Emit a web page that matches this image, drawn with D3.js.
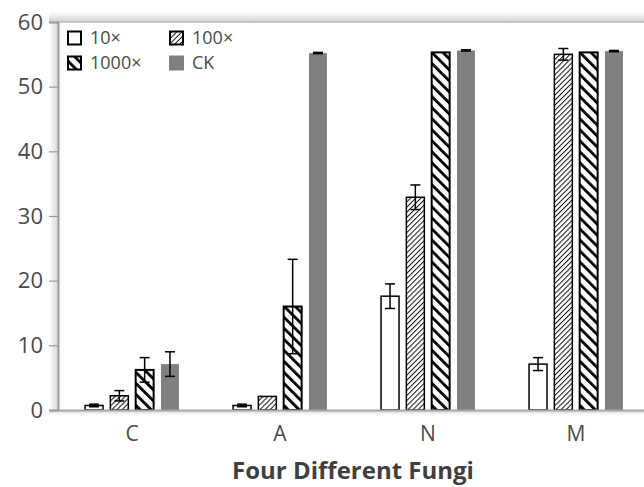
<!DOCTYPE html>
<html>
<head>
<meta charset="utf-8">
<script src="https://cdn.jsdelivr.net/npm/d3@7"></script>
<style>
  body { margin: 0; background: #fff; }
  text { font-family: "Open Sans", "Noto Sans", sans-serif; }
</style>
</head>
<body>
<div id="chart"></div>
<script>
// data
var fungi = ["C", "A", "N", "M"];
var seriesNames = ["10×", "100×", "1000×", "CK"];
var val10 = [0.7, 0.7, 17.6, 7.1];
var err10 = [0.2, 0.2, 1.9, 1.0];
var val100 = [2.2, 2.1, 32.9, 55.0];
var err100 = [0.8, 0, 1.9, 0.9];
var val1000 = [6.2, 16.0, 55.3, 55.3];
var err1000 = [1.9, 7.3, 0, 0];
var valCK = [7.1, 55.2, 55.6, 55.5];
var errCK = [1.9, 0.1, 0.1, 0.1];
var yTicks = [0, 10, 20, 30, 40, 50, 60];

var W = 644, H = 487;
var margin = {t: 22, r: -6, b: 77, l: 58};
var width = W - margin.l - margin.r,
    height = H - margin.t - margin.b;

var svg = d3.select('#chart').append('svg')
    .attr('width', W)
    .attr('height', H);

var defs = svg.append('defs');

// fine "/" hatch for 100x
var p1 = defs.append('pattern').attr('id', 'h100')
    .attr('patternUnits', 'userSpaceOnUse')
    .attr('width', 3.6).attr('height', 3.6)
    .attr('patternTransform', 'rotate(45)');
p1.append('rect').attr('width', 3.6).attr('height', 3.6).attr('fill', '#fff');
p1.append('line').attr('x1', 0.5).attr('x2', 0.5).attr('y1', 0).attr('y2', 3.6)
    .attr('stroke', '#111').attr('stroke-width', 1);

// thick "\" hatch for 1000x
var p2 = defs.append('pattern').attr('id', 'h1000')
    .attr('patternUnits', 'userSpaceOnUse')
    .attr('width', 7.8).attr('height', 7.8)
    .attr('patternTransform', 'rotate(-45)');
p2.append('rect').attr('width', 7.8).attr('height', 7.8).attr('fill', '#fff');
p2.append('rect').attr('x', 0).attr('width', 2.8).attr('height', 7.8).attr('fill', '#000');

// shadows for the frame
var gTop = defs.append('linearGradient').attr('id', 'shTop').attr('x1', 0).attr('x2', 0).attr('y1', 0).attr('y2', 1);
gTop.append('stop').attr('offset', '0%').attr('stop-color', '#fff');
gTop.append('stop').attr('offset', '100%').attr('stop-color', '#d0d0d0');
var gLeft = defs.append('linearGradient').attr('id', 'shLeft').attr('x1', 0).attr('x2', 1).attr('y1', 0).attr('y2', 0);
gLeft.append('stop').attr('offset', '0%').attr('stop-color', '#fff');
gLeft.append('stop').attr('offset', '100%').attr('stop-color', '#d8d8d8');
var gBot = defs.append('linearGradient').attr('id', 'shBot').attr('x1', 0).attr('x2', 0).attr('y1', 0).attr('y2', 1);
gBot.append('stop').attr('offset', '0%').attr('stop-color', '#d0d0d0');
gBot.append('stop').attr('offset', '100%').attr('stop-color', '#fff');

var fills = ['#fff', 'url(#h100)', 'url(#h1000)', '#808080'];
var strokes = ['#000', '#000', '#000', '#808080'];
var strokeW = [1.5, 1.5, 2, 0];

var rows = fungi.map(function(f, i) {
    return {
        name: f,
        vals: [
            {s: 0, v: val10[i], e: err10[i]},
            {s: 1, v: val100[i], e: err100[i]},
            {s: 2, v: val1000[i], e: err1000[i]},
            {s: 3, v: valCK[i], e: errCK[i]}
        ]
    };
});

var x0 = d3.scaleBand().domain(fungi).range([0, width])
    .paddingInner(0.316).paddingOuter(0.158);
var x1 = d3.scaleBand().domain(d3.range(4)).range([0, x0.bandwidth()])
    .paddingInner(0.29).paddingOuter(0.145);
var y = d3.scaleLinear().domain([0, 60]).range([height, 0]);

var g = svg.append('g').attr('transform', 'translate(' + margin.l + ',' + margin.t + ')');

// frame with soft shadows
g.append('rect').attr('x', -9).attr('y', -10).attr('width', width + 20).attr('height', 10).attr('fill', 'url(#shTop)');
g.append('rect').attr('x', -9).attr('y', 0).attr('width', 9).attr('height', height).attr('fill', 'url(#shLeft)');
g.append('rect').attr('x', -9).attr('y', height).attr('width', width + 20).attr('height', 5).attr('fill', 'url(#shBot)');
g.append('line').attr('x1', 0).attr('x2', width + 20).attr('y1', 0).attr('y2', 0)
    .attr('stroke', '#b8b8b8').attr('stroke-width', 1.5);

// bars
var groups = g.selectAll('.grp').data(rows).enter().append('g')
    .attr('class', 'grp')
    .attr('transform', function(d) { return 'translate(' + x0(d.name) + ',0)'; });

groups.selectAll('rect.bar').data(function(d) { return d.vals; }).enter().append('rect')
    .attr('class', 'bar')
    .attr('x', function(d) { return x1(d.s); })
    .attr('width', x1.bandwidth())
    .attr('y', function(d) { return y(d.v); })
    .attr('height', function(d) { return y(0) - y(d.v); })
    .attr('fill', function(d) { return fills[d.s]; })
    .attr('stroke', function(d) { return strokes[d.s]; })
    .attr('stroke-width', function(d) { return strokeW[d.s]; });

// error bars
var eb = groups.selectAll('g.err').data(function(d) { return d.vals.filter(function(v) { return v.e > 0; }); })
    .enter().append('g').attr('class', 'err');
eb.append('line')
    .attr('x1', function(d) { return x1(d.s) + x1.bandwidth() / 2; })
    .attr('x2', function(d) { return x1(d.s) + x1.bandwidth() / 2; })
    .attr('y1', function(d) { return y(d.v + d.e); })
    .attr('y2', function(d) { return y(Math.max(0, d.v - d.e)); })
    .attr('stroke', '#000').attr('stroke-width', 1.5);
eb.append('line')
    .attr('x1', function(d) { return x1(d.s) + x1.bandwidth() / 2 - 5; })
    .attr('x2', function(d) { return x1(d.s) + x1.bandwidth() / 2 + 5; })
    .attr('y1', function(d) { return y(d.v + d.e); })
    .attr('y2', function(d) { return y(d.v + d.e); })
    .attr('stroke', '#000').attr('stroke-width', 1.5);
eb.append('line')
    .attr('x1', function(d) { return x1(d.s) + x1.bandwidth() / 2 - 5; })
    .attr('x2', function(d) { return x1(d.s) + x1.bandwidth() / 2 + 5; })
    .attr('y1', function(d) { return y(Math.max(0, d.v - d.e)); })
    .attr('y2', function(d) { return y(Math.max(0, d.v - d.e)); })
    .attr('stroke', '#000').attr('stroke-width', 1.5);

// axes
var axisY = d3.axisLeft(y).tickValues(yTicks).tickSize(9).tickPadding(6);
var ay = g.append('g').attr('class', 'axis-y').call(axisY);
ay.select('.domain').attr('stroke', '#9a9a9a').attr('stroke-width', 2);
ay.selectAll('.tick line').attr('stroke', '#9a9a9a').attr('stroke-width', 1.2);
ay.selectAll('.tick text').attr('fill', '#4a4a4a').style('font-size', '22px');

var axisX = d3.axisBottom(x0).tickSize(0).tickPadding(16);
var ax = g.append('g').attr('transform', 'translate(0,' + height + ')').call(axisX);
ax.select('.domain').attr('stroke', '#a8a8a8').attr('stroke-width', 2);
ax.selectAll('.tick text').attr('fill', '#4a4a4a').style('font-size', '21px');

g.append('text')
    .attr('x', 295).attr('y', height + 69)
    .attr('text-anchor', 'middle')
    .attr('fill', '#3f3f3f')
    .style('font-size', '24px').style('font-weight', 'bold')
    .text('Four Different Fungi');

// legend
var legPos = [[10, 16], [112, 16], [10, 41], [112, 41]];
var leg = g.selectAll('.leg').data(seriesNames).enter().append('g')
    .attr('class', 'leg')
    .attr('transform', function(d, i) { return 'translate(' + legPos[i][0] + ',' + legPos[i][1] + ')'; });
leg.append('rect')
    .attr('x', 0).attr('y', -6.5).attr('width', 13).attr('height', 13)
    .attr('fill', function(d, i) { return fills[i]; })
    .attr('stroke', function(d, i) { return i == 3 ? '#808080' : '#000'; })
    .attr('stroke-width', 2);
leg.append('text')
    .attr('x', 22).attr('y', 0).attr('dy', '0.36em')
    .attr('fill', '#4a4a4a')
    .style('font-size', '18px')
    .text(function(d) { return d; });
</script>
</body>
</html>
